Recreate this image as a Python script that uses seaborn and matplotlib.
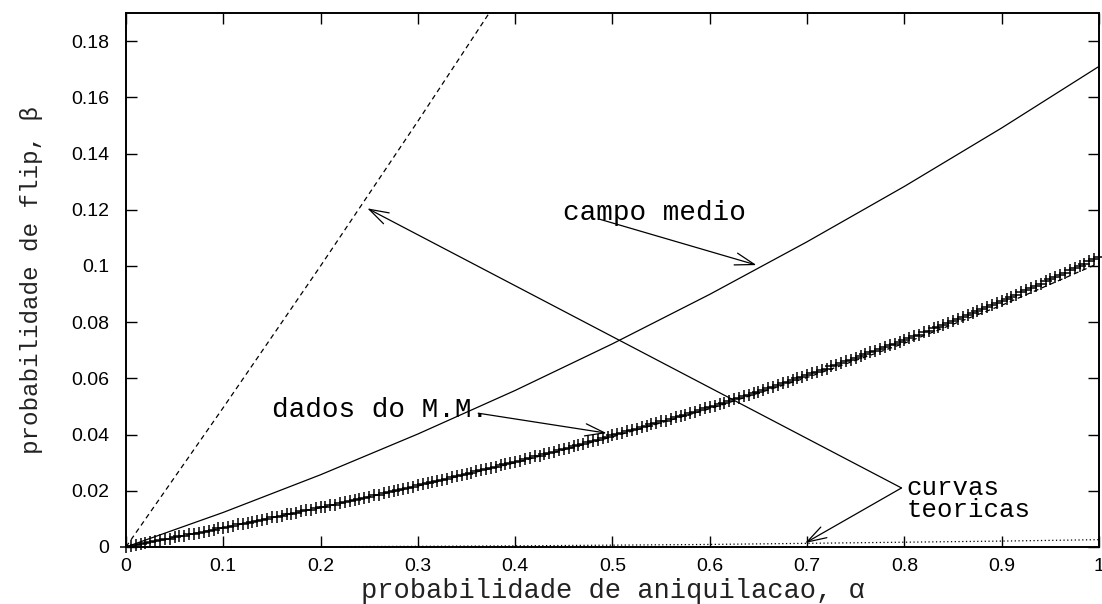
import numpy as np
import pandas as pd
import matplotlib
matplotlib.use("Agg")
import matplotlib.pyplot as plt
import seaborn as sns
from matplotlib.ticker import FuncFormatter

# Monte Carlo data (annihilation probability alpha vs flip probability beta)
mm_alpha = np.round(np.arange(0, 201) * 0.005, 3)
mm_beta = [
    0.0000, 0.0004, 0.0006, 0.0011, 0.0013, 0.0018, 0.0020, 0.0024, 0.0028, 0.0030,
    0.0034, 0.0038, 0.0040, 0.0045, 0.0047, 0.0051, 0.0055, 0.0058, 0.0061, 0.0066,
    0.0068, 0.0072, 0.0075, 0.0080, 0.0082, 0.0087, 0.0089, 0.0094, 0.0097, 0.0100,
    0.0105, 0.0107, 0.0111, 0.0116, 0.0119, 0.0122, 0.0127, 0.0130, 0.0133, 0.0138,
    0.0141, 0.0144, 0.0149, 0.0151, 0.0156, 0.0161, 0.0163, 0.0168, 0.0171, 0.0176,
    0.0179, 0.0184, 0.0186, 0.0192, 0.0195, 0.0198, 0.0204, 0.0206, 0.0211, 0.0215,
    0.0219, 0.0224, 0.0226, 0.0232, 0.0235, 0.0240, 0.0243, 0.0248, 0.0252, 0.0255,
    0.0261, 0.0264, 0.0269, 0.0274, 0.0277, 0.0282, 0.0286, 0.0290, 0.0295, 0.0299,
    0.0304, 0.0307, 0.0313, 0.0316, 0.0322, 0.0325, 0.0330, 0.0336, 0.0339, 0.0345,
    0.0349, 0.0353, 0.0358, 0.0363, 0.0368, 0.0372, 0.0377, 0.0381, 0.0387, 0.0391,
    0.0397, 0.0401, 0.0406, 0.0411, 0.0416, 0.0420, 0.0426, 0.0431, 0.0436, 0.0441,
    0.0447, 0.0450, 0.0456, 0.0461, 0.0466, 0.0471, 0.0478, 0.0482, 0.0487, 0.0494,
    0.0498, 0.0503, 0.0510, 0.0514, 0.0520, 0.0526, 0.0531, 0.0537, 0.0541, 0.0549,
    0.0553, 0.0559, 0.0566, 0.0570, 0.0577, 0.0582, 0.0587, 0.0594, 0.0600, 0.0605,
    0.0611, 0.0618, 0.0623, 0.0630, 0.0635, 0.0643, 0.0646, 0.0654, 0.0660, 0.0666,
    0.0673, 0.0679, 0.0685, 0.0692, 0.0698, 0.0704, 0.0711, 0.0717, 0.0724, 0.0731,
    0.0737, 0.0743, 0.0751, 0.0756, 0.0764, 0.0770, 0.0778, 0.0784, 0.0791, 0.0797,
    0.0805, 0.0811, 0.0819, 0.0825, 0.0833, 0.0840, 0.0847, 0.0855, 0.0862, 0.0868,
    0.0877, 0.0883, 0.0891, 0.0898, 0.0906, 0.0913, 0.0921, 0.0930, 0.0937, 0.0945,
    0.0953, 0.0960, 0.0968, 0.0976, 0.0984, 0.0991, 0.1000, 0.1008, 0.1016, 0.1024,
    0.1032,
]

# Theoretical curves
curve_alpha = [0.0, 0.1, 0.2, 0.3, 0.4, 0.5, 0.6, 0.7, 0.8, 0.9, 1.0]
mean_field_beta = [0.0, 0.0123, 0.0257, 0.0402, 0.0557, 0.0723, 0.0899, 0.1086, 0.1283, 0.1491, 0.1710]
theory_fit_beta = [0.0, 0.0068, 0.0140, 0.0217, 0.0300, 0.0392, 0.0492, 0.0603, 0.0725, 0.0860, 0.1010]
theory_low_beta = [0.0, 0.00003, 0.0001, 0.00023, 0.0004, 0.00065, 0.0009, 0.0013, 0.0017, 0.0021, 0.0026]
steep_alpha = [0.0, 0.1, 0.2, 0.3, 0.4]
theory_steep_beta = [0.0, 0.0496, 0.1000, 0.1515, 0.2040]

x_ticks = [0.0, 0.1, 0.2, 0.3, 0.4, 0.5, 0.6, 0.7, 0.8, 0.9, 1.0]
y_ticks = [0.0, 0.02, 0.04, 0.06, 0.08, 0.10, 0.12, 0.14, 0.16, 0.18]

sns.set_theme(style="ticks")
plt.rcParams["font.family"] = ["Liberation Sans", "DejaVu Sans"]
MONO = ["Liberation Mono", "DejaVu Sans Mono"]

fig = plt.figure(figsize=(11.02, 6.04), dpi=100)
fig.patch.set_facecolor("white")
ax = fig.add_axes([0.1143, 0.0944, 0.8830, 0.8841])
ax.set_facecolor("white")

lw = 0.9
sns.lineplot(x=steep_alpha, y=theory_steep_beta, ax=ax, color="black", lw=lw,
             linestyle=(0, (4, 3)), sort=False)
sns.lineplot(x=curve_alpha, y=mean_field_beta, ax=ax, color="black", lw=lw, sort=False)
sns.lineplot(x=curve_alpha, y=theory_fit_beta, ax=ax, color="black", lw=lw,
             linestyle=(0, (4, 3)), sort=False)
sns.lineplot(x=curve_alpha, y=theory_low_beta, ax=ax, color="black", lw=lw,
             linestyle=(0, (1, 2)), sort=False)
sns.scatterplot(x=mm_alpha, y=mm_beta, ax=ax, marker="+", s=80, color="black",
                linewidth=1.1, zorder=3, clip_on=False)

ax.set_xlim(0, 1)
ax.set_ylim(0, 0.19)
ax.set_xticks(x_ticks)
ax.set_yticks(y_ticks)
fmt = FuncFormatter(lambda v, p: "%g" % round(v, 3))
ax.xaxis.set_major_formatter(fmt)
ax.yaxis.set_major_formatter(fmt)
ax.tick_params(direction="in", length=8, width=1.0, top=True, right=True,
               labelsize=14, colors="black", pad=12)
ax.tick_params(axis="x", pad=8)
for s in ax.spines.values():
    s.set_linewidth(1.4)
    s.set_color("black")
    s.set_visible(True)

ax.set_xlabel("probabilidade de aniquilacao, α", family=MONO, fontsize=19.5,
              color="#222222", va="baseline")
ax.xaxis.set_label_coords(0.5, -0.0955)
ax.set_ylabel("probabilidade de flip, β", family=MONO, fontsize=17.5,
              labelpad=20, color="#222222")

txt = dict(family=MONO, fontsize=20, color="black", va="center", ha="left")
ax.text(0.449, 0.1190, "campo medio", **txt)
ax.text(0.150, 0.0487, "dados do M.M.", **txt)
ax.text(0.802, 0.0254, "curvas\nteoricas", family=MONO, fontsize=18.5,
        color="black", ha="left", va="top", linespacing=0.9)

arrow = dict(arrowstyle="->,head_length=0.7,head_width=0.22", color="black",
             lw=lw, shrinkA=0, shrinkB=0, mutation_scale=20)
ax.annotate("", xy=(0.648, 0.1003), xytext=(0.487, 0.1166), arrowprops=arrow)
ax.annotate("", xy=(0.494, 0.0405), xytext=(0.362, 0.0476), arrowprops=arrow)
ax.annotate("", xy=(0.248, 0.1205), xytext=(0.797, 0.0210), arrowprops=arrow)
ax.annotate("", xy=(0.698, 0.0014), xytext=(0.797, 0.0210), arrowprops=arrow)

fig.savefig("out.png", dpi=100, facecolor="white")
